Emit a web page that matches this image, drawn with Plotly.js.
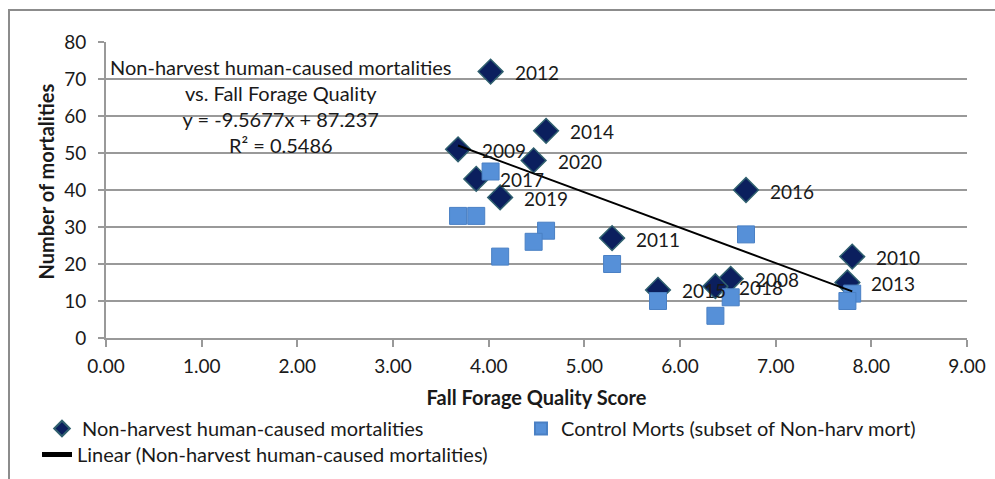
<!DOCTYPE html>
<html><head><meta charset="utf-8">
<script src="https://cdn.plot.ly/plotly-3.0.1.min.js"></script>
<style>
html,body{margin:0;padding:0;background:#fff;}
#wrap{position:relative;width:995px;height:479px;overflow:hidden;}
#chart{width:995px;height:479px;}
#frame{position:absolute;left:8px;top:9px;width:1200px;height:800px;border-left:2px solid #8c8c8c;border-top:2px solid #8c8c8c;pointer-events:none;}
</style>
</head><body>
<div id="wrap"><div id="chart"></div><div id="frame"></div></div>
<script>
// Data
const years      = [2008, 2009, 2010, 2011, 2012, 2013, 2014, 2015, 2016, 2017, 2018, 2019, 2020];
const forage     = [6.53, 3.68, 7.80, 5.29, 4.02, 7.75, 4.60, 5.77, 6.69, 3.87, 6.37, 4.12, 4.47];
const nonHarvest = [16,   51,   22,   27,   72,   15,   56,   13,   40,   43,   14,   38,   48];
const control    = [11,   33,   12,   20,   45,   10,   29,   10,   28,   33,   6,    22,   26];
const trendSlope = -9.5677;
const trendIntercept = 87.237;
const rSquared = 0.5486;
const xTickVals = [0,1,2,3,4,5,6,7,8,9];
const xTickText = ['0.00','1.00','2.00','3.00','4.00','5.00','6.00','7.00','8.00','9.00'];
const xTitle = 'Fall Forage Quality Score';
const yTitle = 'Number of mortalities';

const FONT = 'Lato, "Open Sans", sans-serif';
const TXT = '#1a1a1a';
const GRID = '#999999';

const xMin = Math.min(...forage), xMax = Math.max(...forage);
const trendX = [xMin, xMax];
const trendY = trendX.map(v => trendSlope * v + trendIntercept);

const traces = [
  {
    type: 'scatter', mode: 'markers', name: 'Non-harvest human-caused mortalities',
    x: forage, y: nonHarvest, legend: 'legend',
    marker: {symbol: 'diamond', size: 19, color: '#0b1f5e', line: {color: '#2f5f6e', width: 1.5}}
  },
  {
    type: 'scatter', mode: 'markers', name: 'Control Morts (subset of Non-harv mort)',
    x: forage, y: control, legend: 'legend2',
    marker: {symbol: 'square', size: 17, color: '#5690d8', line: {color: '#4a80c4', width: 1}}
  },
  {
    type: 'scatter', mode: 'lines', name: 'Linear (Non-harvest human-caused mortalities)',
    x: trendX, y: trendY, legend: 'legend3',
    line: {color: '#000000', width: 2}
  }
];

const yearLabels = years.map((yr, i) => ({
  x: forage[i], y: nonHarvest[i], xref: 'x', yref: 'y',
  text: String(yr), showarrow: false, xanchor: 'left', yanchor: 'middle',
  xshift: 22, yshift: -1, font: {family: FONT, size: 19, color: TXT}
}));

const eqText = 'Non-harvest human-caused mortalities<br>vs. Fall Forage Quality<br>y = ' +
  trendSlope + 'x + ' + trendIntercept + '<br>R² = ' + rSquared;

const legendCommon = {
  orientation: 'h', xref: 'container', yref: 'container',
  xanchor: 'left', yanchor: 'top', itemsizing: 'constant',
  font: {family: FONT, size: 20, color: TXT}, bgcolor: 'rgba(0,0,0,0)', traceorder: 'normal'
};

const layout = {
  width: 995, height: 479,
  margin: {l: 106, r: 28, t: 42, b: 141, pad: 0},
  paper_bgcolor: '#ffffff', plot_bgcolor: '#ffffff',
  font: {family: FONT, size: 19, color: TXT},
  showlegend: true,
  xaxis: {
    range: [0, 9], tickvals: xTickVals, ticktext: xTickText,
    showgrid: false, zeroline: false,
    showline: true, linecolor: GRID, linewidth: 2,
    ticks: 'outside', ticklen: 7, tickwidth: 2, tickcolor: GRID,
    ticklabelstandoff: 3,
    tickfont: {family: FONT, size: 19, color: TXT},
    title: {text: xTitle, font: {family: FONT, size: 20, color: TXT, weight: 'bold'}, standoff: 15}
  },
  yaxis: {
    range: [0, 80], dtick: 10, tick0: 0,
    showgrid: true, gridcolor: GRID, gridwidth: 2,
    zeroline: false,
    showline: true, linecolor: GRID, linewidth: 2,
    ticks: 'outside', ticklen: 6, tickwidth: 2, tickcolor: GRID,
    ticklabelstandoff: 8,
    tickfont: {family: FONT, size: 19, color: TXT}
  },
  legend: Object.assign({}, legendCommon, {x: 0.0422, y: 0.1461}),
  legend2: Object.assign({}, legendCommon, {x: 0.5236, y: 0.1461}),
  legend3: Object.assign({}, legendCommon, {x: 0.0372, y: 0.0919}),
  annotations: [
    {
      xref: 'paper', yref: 'paper', x: 0.2033, y: 0.7845, xanchor: 'center', yanchor: 'middle',
      align: 'center', showarrow: false, text: eqText,
      font: {family: FONT, size: 20, color: TXT}
    },
    {
      xref: 'paper', yref: 'paper', x: -0.0697, y: 0.5287, xanchor: 'center', yanchor: 'middle',
      textangle: -90, showarrow: false, text: yTitle,
      font: {family: FONT, size: 20, color: TXT, weight: 'bold'}
    }
  ].concat(yearLabels)
};

Plotly.newPlot('chart', traces, layout, {displayModeBar: false, staticPlot: true});
</script>
</body></html>
